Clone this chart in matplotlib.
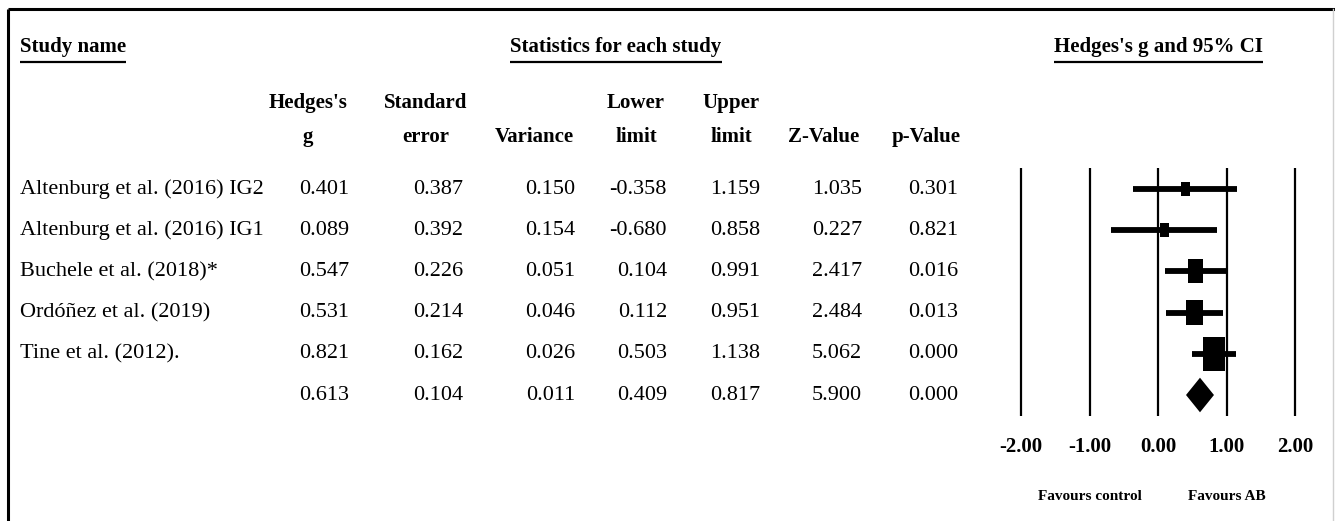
import matplotlib
matplotlib.use("Agg")
import matplotlib.pyplot as plt
from matplotlib.patches import Rectangle, Polygon
import matplotlib.transforms as mtransforms

# -------------------------------------------------------------
# Data
# -------------------------------------------------------------
studies = ["Altenburg et al. (2016) IG2", "Altenburg et al. (2016) IG1",
           "Buchele et al. (2018)*", "Ordóñez et al. (2019)",
           "Tine et al. (2012).", ""]
hedges_g = [0.401, 0.089, 0.547, 0.531, 0.821, 0.613]
std_err = [0.387, 0.392, 0.226, 0.214, 0.162, 0.104]
variance = [0.150, 0.154, 0.051, 0.046, 0.026, 0.011]
lower = [-0.358, -0.680, 0.104, 0.112, 0.503, 0.409]
upper = [1.159, 0.858, 0.991, 0.951, 1.138, 0.817]
z_value = [1.035, 0.227, 2.417, 2.484, 5.062, 5.900]
p_value = [0.301, 0.821, 0.016, 0.013, 0.000, 0.000]

col_headers = [("Hedges's", "g"), ("Standard", "error"), ("", "Variance"),
               ("Lower", "limit"), ("Upper", "limit"), ("", "Z-Value"), ("", "p-Value")]
x_ticks = [-2, -1, 0, 1, 2]
x_ticklabels = ["-2.00", "-1.00", "0.00", "1.00", "2.00"]

# -------------------------------------------------------------
# Layout (pixels)
# -------------------------------------------------------------
W, H = 1335, 521
FONT = ["Liberation Serif", "DejaVu Serif"]
ROW0, ROW_H = 189, 41.2
name_x = 20
num_right = [349, 463, 575, 667, 760, 862, 958]
head_center = [308, 426, 534, 636, 731, 824, 926]

fig = plt.figure(figsize=(W / 100, H / 100), dpi=100)
bg = fig.add_axes([0, 0, 1, 1])
bg.set_xlim(0, W)
bg.set_ylim(H, 0)
bg.axis("off")

# border
bg.plot([8, W], [9, 9], color="black", lw=2.2, solid_capstyle="butt")
bg.plot([8, 8], [9, H], color="black", lw=2.2, solid_capstyle="butt")
bg.plot([W - 2, W - 2], [9, H], color="#d0d0d0", lw=1)

# section titles, underlined
titles = [("Study name", name_x, "left"),
          ("Statistics for each study", 616, "center"),
          ("Hedges's g and 95% CI", 1158, "center")]
title_texts = []
for label, x, ha in titles:
    t = bg.text(x, 47, label, ha=ha, va="center", fontsize=15,
                fontweight="bold", family=FONT)
    title_texts.append(t)

# column headers
for (l1, l2), xc in zip(col_headers, head_center):
    if l1:
        bg.text(xc, 103, l1, ha="center", va="center", fontsize=15,
                fontweight="bold", family=FONT)
    bg.text(xc, 137, l2, ha="center", va="center", fontsize=15,
            fontweight="bold", family=FONT)

# table rows
columns = [hedges_g, std_err, variance, lower, upper, z_value, p_value]
for i, name in enumerate(studies):
    y = ROW0 + ROW_H * i
    if name:
        bg.text(name_x, y, name, ha="left", va="center", fontsize=16, family=FONT)
    for col, xr in zip(columns, num_right):
        bg.text(xr, y, f"{col[i]:.3f}", ha="right", va="center",
                fontsize=16, family=FONT)

# -------------------------------------------------------------
# Forest plot
# -------------------------------------------------------------
px_unit = 68.5   # pixels per unit of g
zero_px = 1158
ax_l, ax_r, ax_t, ax_b = 1000, 1320, 160, 420
ax = fig.add_axes([ax_l / W, (H - ax_b) / H, (ax_r - ax_l) / W, (ax_b - ax_t) / H])
ax.set_xlim((ax_l - zero_px) / px_unit, (ax_r - zero_px) / px_unit)
ax.set_ylim((ax_b - ROW0) / ROW_H, (ax_t - ROW0) / ROW_H)
for s in ax.spines.values():
    s.set_visible(False)
ax.set_yticks([])
ax.patch.set_alpha(0)

ax.vlines(x_ticks, -0.5, len(studies) - 0.5, color="black", lw=1.6)

n_study = len(studies) - 1
for i in range(n_study):
    ax.hlines(i, lower[i], upper[i], color="black", lw=4.2)
    w_px = 3.5 * (1 / variance[i]) ** 0.5
    bw = w_px / px_unit
    bh = 1.55 * w_px / ROW_H
    ax.add_patch(Rectangle((hedges_g[i] - bw / 2, i - bh / 2), bw, bh,
                           facecolor="black", edgecolor="none", zorder=3))

# summary diamond
k = n_study
dh = 0.42
ax.add_patch(Polygon([(lower[k], k), (hedges_g[k], k - dh),
                      (upper[k], k), (hedges_g[k], k + dh)],
                     closed=True, facecolor="black", edgecolor="none", zorder=3))

ax.set_xticks(x_ticks)
ax.set_xticklabels(x_ticklabels, fontsize=15, fontweight="bold", family=FONT)
ax.tick_params(axis="x", length=0, pad=12)

lbl_tr = mtransforms.blended_transform_factory(ax.transData, fig.transFigure)
ax.text(-0.99, (H - 497) / H, "Favours control", transform=lbl_tr, ha="center",
        va="center", fontsize=11, fontweight="bold", family=FONT)
ax.text(1.0, (H - 497) / H, "Favours AB", transform=lbl_tr, ha="center",
        va="center", fontsize=11, fontweight="bold", family=FONT)

# underline the section titles from their rendered extent
fig.canvas.draw()
inv = bg.transData.inverted()
for t in title_texts:
    bb = t.get_window_extent()
    (x0, _), (x1, _) = inv.transform([(bb.x0, bb.y0), (bb.x1, bb.y0)])
    bg.plot([x0, x1], [62, 62], color="black", lw=1.6, solid_capstyle="butt")

fig.savefig("out.png", dpi=100)
